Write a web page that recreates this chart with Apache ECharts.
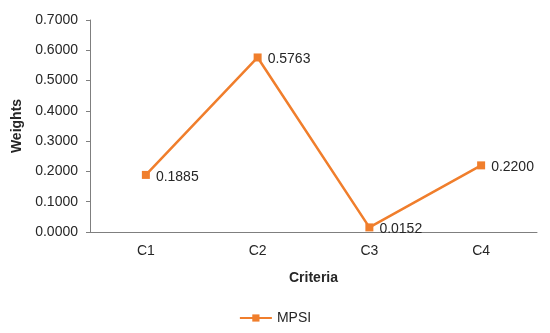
<!DOCTYPE html>
<html>
<head>
<meta charset="utf-8">
<script src="https://cdn.jsdelivr.net/npm/echarts@6/dist/echarts.min.js"></script>
<style>
  html, body { margin: 0; padding: 0; background: #fff; }
  #chart { width: 550px; height: 333px; }
</style>
</head>
<body>
<div id="chart"></div>
<script>
const categories = ['C1', 'C2', 'C3', 'C4']
const mpsiWeights = [0.1885, 0.5763, 0.0152, 0.2200]
const seriesName = 'MPSI'

const lineColor = '#F07E2C'
const textColor = '#262626'
const axisColor = '#7f7f7f'
const font = 'Liberation Sans'

const chart = echarts.init(document.getElementById('chart'))

chart.setOption({
  animation: false,
  textStyle: { fontFamily: font },
  grid: { left: 90, right: 13, top: 20, bottom: 101 },
  legend: {
    bottom: 3,
    left: 'center',
    itemWidth: 32,
    itemHeight: 9,
    itemGap: 4,
    textStyle: { color: textColor, fontSize: 14, fontFamily: font },
    data: [seriesName]
  },
  xAxis: {
    type: 'category',
    data: categories,
    name: 'Criteria',
    nameLocation: 'middle',
    nameGap: 39,
    nameTextStyle: { color: textColor, fontSize: 14, fontWeight: 'bold', fontFamily: font },
    axisLine: { lineStyle: { color: axisColor, width: 1 } },
    axisTick: { alignWithLabel: true, length: 4, lineStyle: { color: axisColor } },
    axisLabel: { color: textColor, fontSize: 14, margin: 12 },
    splitLine: { show: false }
  },
  yAxis: {
    type: 'value',
    min: 0,
    max: 0.7,
    interval: 0.1,
    name: 'Weights',
    nameLocation: 'middle',
    nameGap: 52,
    nameTextStyle: { color: textColor, fontSize: 14, fontWeight: 'bold', fontFamily: font },
    axisLine: { show: true, lineStyle: { color: axisColor, width: 1 } },
    axisTick: { show: true, length: 4, lineStyle: { color: axisColor } },
    axisLabel: {
      color: textColor,
      fontSize: 14,
      margin: 12,
      formatter: v => v.toFixed(4)
    },
    splitLine: { show: false }
  },
  series: [
    {
      name: seriesName,
      type: 'line',
      data: mpsiWeights,
      symbol: 'rect',
      symbolSize: 8,
      lineStyle: { color: lineColor, width: 2.5 },
      itemStyle: { color: lineColor },
      label: {
        show: true,
        position: 'right',
        distance: 6,
        offset: [0, 2],
        color: textColor,
        fontSize: 14,
        formatter: p => p.value.toFixed(4)
      }
    }
  ]
})
</script>
</body>
</html>
